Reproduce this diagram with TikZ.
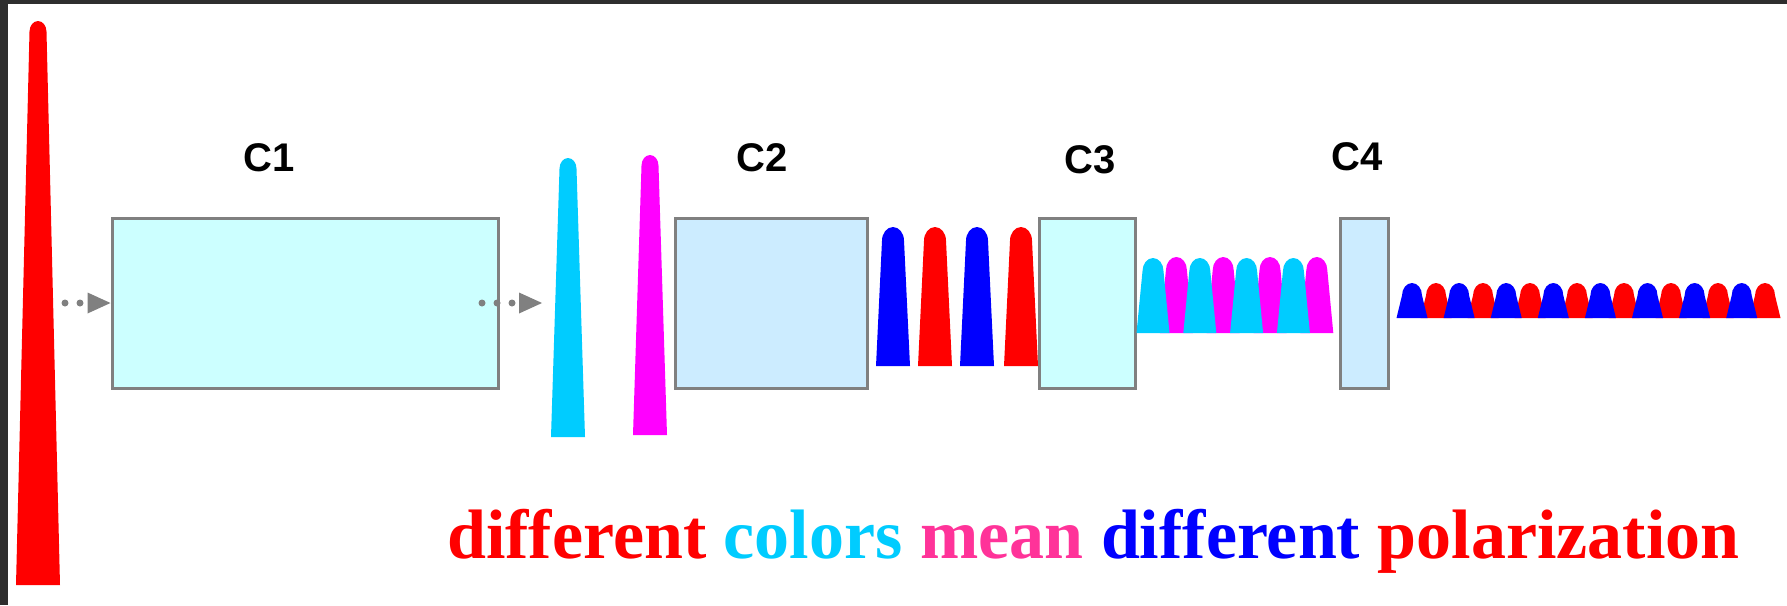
\documentclass[tikz,border=0pt]{standalone}
\usepackage{fontspec}
\setmainfont{Liberation Serif}
\setsansfont{Liberation Sans}
\usetikzlibrary{arrows.meta}
\definecolor{boxgray}{HTML}{808080}
\definecolor{aqua}{HTML}{CCFFFF}
\definecolor{skyblue}{HTML}{CCECFF}
\definecolor{pcyan}{HTML}{00CCFF}
\definecolor{pmagenta}{HTML}{FF00FF}
\definecolor{pblue}{HTML}{0000FF}
\definecolor{pred}{HTML}{FF0000}
\definecolor{ppink}{HTML}{FF3399}
\definecolor{frame}{HTML}{2E2E2E}
% colour, centre x, base y, apex y, half width at base, half width at top
\newcommand{\drawpulse}[6]{\fill[#1] ({#2-#5},#3) -- ({#2-#6},{#4+1.25*#6}) .. controls ({#2-#6},{#4+0.56*#6}) and ({#2-0.552*#6},#4) .. (#2,#4) .. controls ({#2+0.552*#6},#4) and ({#2+#6},{#4+0.56*#6}) .. ({#2+#6},{#4+1.25*#6}) -- ({#2+#5},#3) -- cycle;}

\begin{document}
\begin{tikzpicture}[x=1pt,y=-1pt,
  box/.style={draw=boxgray, line width=3pt, inner sep=0pt, minimum height=170pt},
  tag/.style={font=\sffamily\bfseries\fontsize{40}{48}\selectfont, inner sep=0pt},
  feed/.style={draw=boxgray, line width=7pt, line cap=round, dash pattern=on 0pt off 15pt, -{Triangle[length=23pt,width=21pt,line width=0pt]}}]
\useasboundingbox (0,0) rectangle (1787,605);
\fill[frame] (0,0) rectangle (1787,605);
\fill[white] (8,4) rectangle (1787,605);
\node[box, fill=aqua, minimum width=386pt] (C1) at (305,303) {};
\node[box, fill=skyblue, minimum width=192pt] (C2) at (771,303) {};
\node[box, fill=aqua, minimum width=96pt] (C3) at (1087,303) {};
\node[box, fill=skyblue, minimum width=48pt] (C4) at (1364,303) {};
\node[tag] (C1tag) at (269,158) {C1};
\node[tag] (C2tag) at (762,158) {C2};
\node[tag] (C3tag) at (1090,160) {C3};
\node[tag] (C4tag) at (1357,157) {C4};
\drawpulse{pred}{38}{585}{21}{22}{8.5}
\drawpulse{pcyan}{568}{437}{158}{17}{8.5}
\drawpulse{pmagenta}{650}{435}{155}{17}{8.5}
\coordinate (in1) at (65,303);
\draw[feed] (in1) -- (C1.west);
\coordinate (out1) at (482,303);
\coordinate (out2) at (542,303);
\draw[feed] (out1) -- (out2);
\drawpulse{pblue}{893}{366}{227}{17}{11}
\drawpulse{pred}{935}{366}{227}{17}{11}
\drawpulse{pblue}{977}{366}{227}{17}{11}
\drawpulse{pred}{1021}{366}{227}{17}{11}
\foreach \i in {0,...,3} {
  \drawpulse{pmagenta}{1176.4+46.8*\i}{333}{257}{16.5}{10.5}
}
\foreach \i in {0,...,3} {
  \drawpulse{pcyan}{1153+46.8*\i}{333}{258}{16.5}{10.5}
}
\foreach \i in {0,...,7} {
  \drawpulse{pred}{1436+47*\i}{318}{283}{15.5}{10}
}
\foreach \i in {0,...,7} {
  \drawpulse{pblue}{1412+47.1*\i}{318}{283}{15.5}{10}
}
\node[anchor=base west, inner sep=0pt, font=\bfseries\fontsize{70}{84}\selectfont] (caption) at (447,558) {\textcolor{pred}{different} \textcolor{pcyan}{colors} \textcolor{ppink}{mean} \textcolor{pblue}{different} \textcolor{pred}{polarization}};
\end{tikzpicture}
\end{document}
